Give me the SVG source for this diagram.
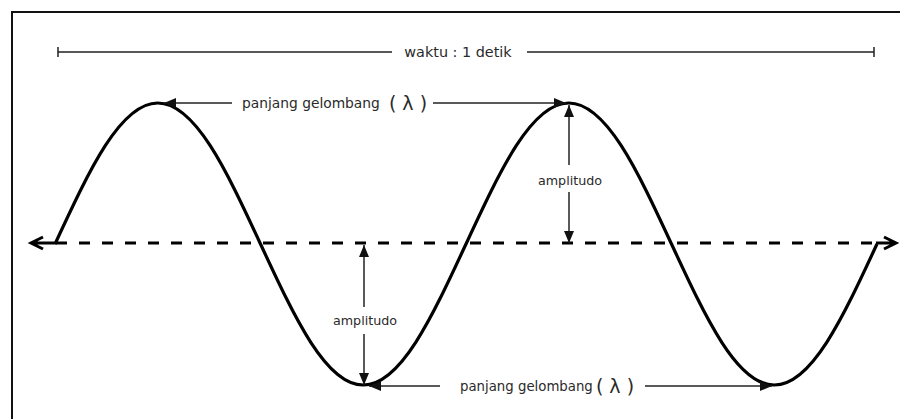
<svg xmlns="http://www.w3.org/2000/svg" width="900" height="419" viewBox="0 0 900 419">
  <defs>
    <marker id="tri" viewBox="0 0 12 10" refX="12" refY="5" markerWidth="12" markerHeight="10" markerUnits="userSpaceOnUse" orient="auto-start-reverse">
      <path d="M0,0 L12,5 L0,10 Z" fill="#111"/>
    </marker>
  </defs>
  <style>
    .lbl { font-family: "DejaVu Sans", Verdana, sans-serif; fill: #2a2a2a; }
    .thin { stroke: #222; stroke-width: 1.5; fill: none; }
    .wave { stroke: #000; stroke-width: 3.2; fill: none; }
    .axis { stroke: #000; stroke-width: 3; fill: none; }
  </style>
  <rect width="900" height="419" fill="#fff"/>
  <!-- frame -->
  <path d="M12,419 L12,12 L900,12" stroke="#111" stroke-width="2" fill="none"/>

  <g id="time-bar">
    <path class="thin" d="M58,52 L392,52 M527,52 L874,52 M58,47 L58,57 M874,47 L874,57"/>
    <text class="lbl" x="458" y="57" font-size="14.4" text-anchor="middle">waktu : 1 detik</text>
  </g>

  <g id="axis">
    <path class="axis" d="M56,243 L877,243" stroke-dasharray="11 12"/>
    <path class="axis" d="M31,243 L56,243 M43,237 L31,243 L43,249" stroke-width="2.6"/>
    <path class="axis" d="M876,243 L896,243 M884,237 L896,243 L884,249" stroke-width="2.6"/>
  </g>

  <g id="wave">
    <path class="wave" d="M55,244 C89.35,169.96 120.41,103 157.75,103 C195.09,103 226.15,169.96 260.5,244 C294.85,318.04 325.91,385 363.25,385 C400.59,385 431.65,318.04 466,244 C500.35,169.96 531.41,103 568.75,103 C606.09,103 637.15,169.96 671.5,244 C705.85,318.04 736.91,385 774.25,385 C811.59,385 842.65,318.04 877,244"/>
  </g>

  <g id="connectors">
    <path class="thin" d="M232,103 L164,103" marker-end="url(#tri)"/>
    <path class="thin" d="M433,103 L566,103" marker-end="url(#tri)"/>
    <path class="thin" d="M440,386 L369,386" marker-end="url(#tri)"/>
    <path class="thin" d="M645,386 L772,386" marker-end="url(#tri)"/>
    <path class="thin" d="M569,165 L569,105" marker-end="url(#tri)"/>
    <path class="thin" d="M569,192 L569,243" marker-end="url(#tri)"/>
    <path class="thin" d="M364,307 L364,245" marker-end="url(#tri)"/>
    <path class="thin" d="M364,334 L364,385" marker-end="url(#tri)"/>
  </g>

  <g id="label-wavelength-top">
    <text class="lbl" x="242" y="107.5" font-size="13.8">panjang gelombang</text>
    <text class="lbl" x="408" y="109.5" font-size="19" text-anchor="middle">( λ )</text>
  </g>
  <g id="label-wavelength-bottom">
    <text class="lbl" x="460" y="390.5" font-size="13.3">panjang gelombang</text>
    <text class="lbl" x="615" y="392.5" font-size="19" text-anchor="middle">( λ )</text>
  </g>
  <g id="label-amplitude-top">
    <text class="lbl" x="570" y="184.5" font-size="12.7" text-anchor="middle">amplitudo</text>
  </g>
  <g id="label-amplitude-bottom">
    <text class="lbl" x="365" y="324.5" font-size="12.7" text-anchor="middle">amplitudo</text>
  </g>
</svg>
